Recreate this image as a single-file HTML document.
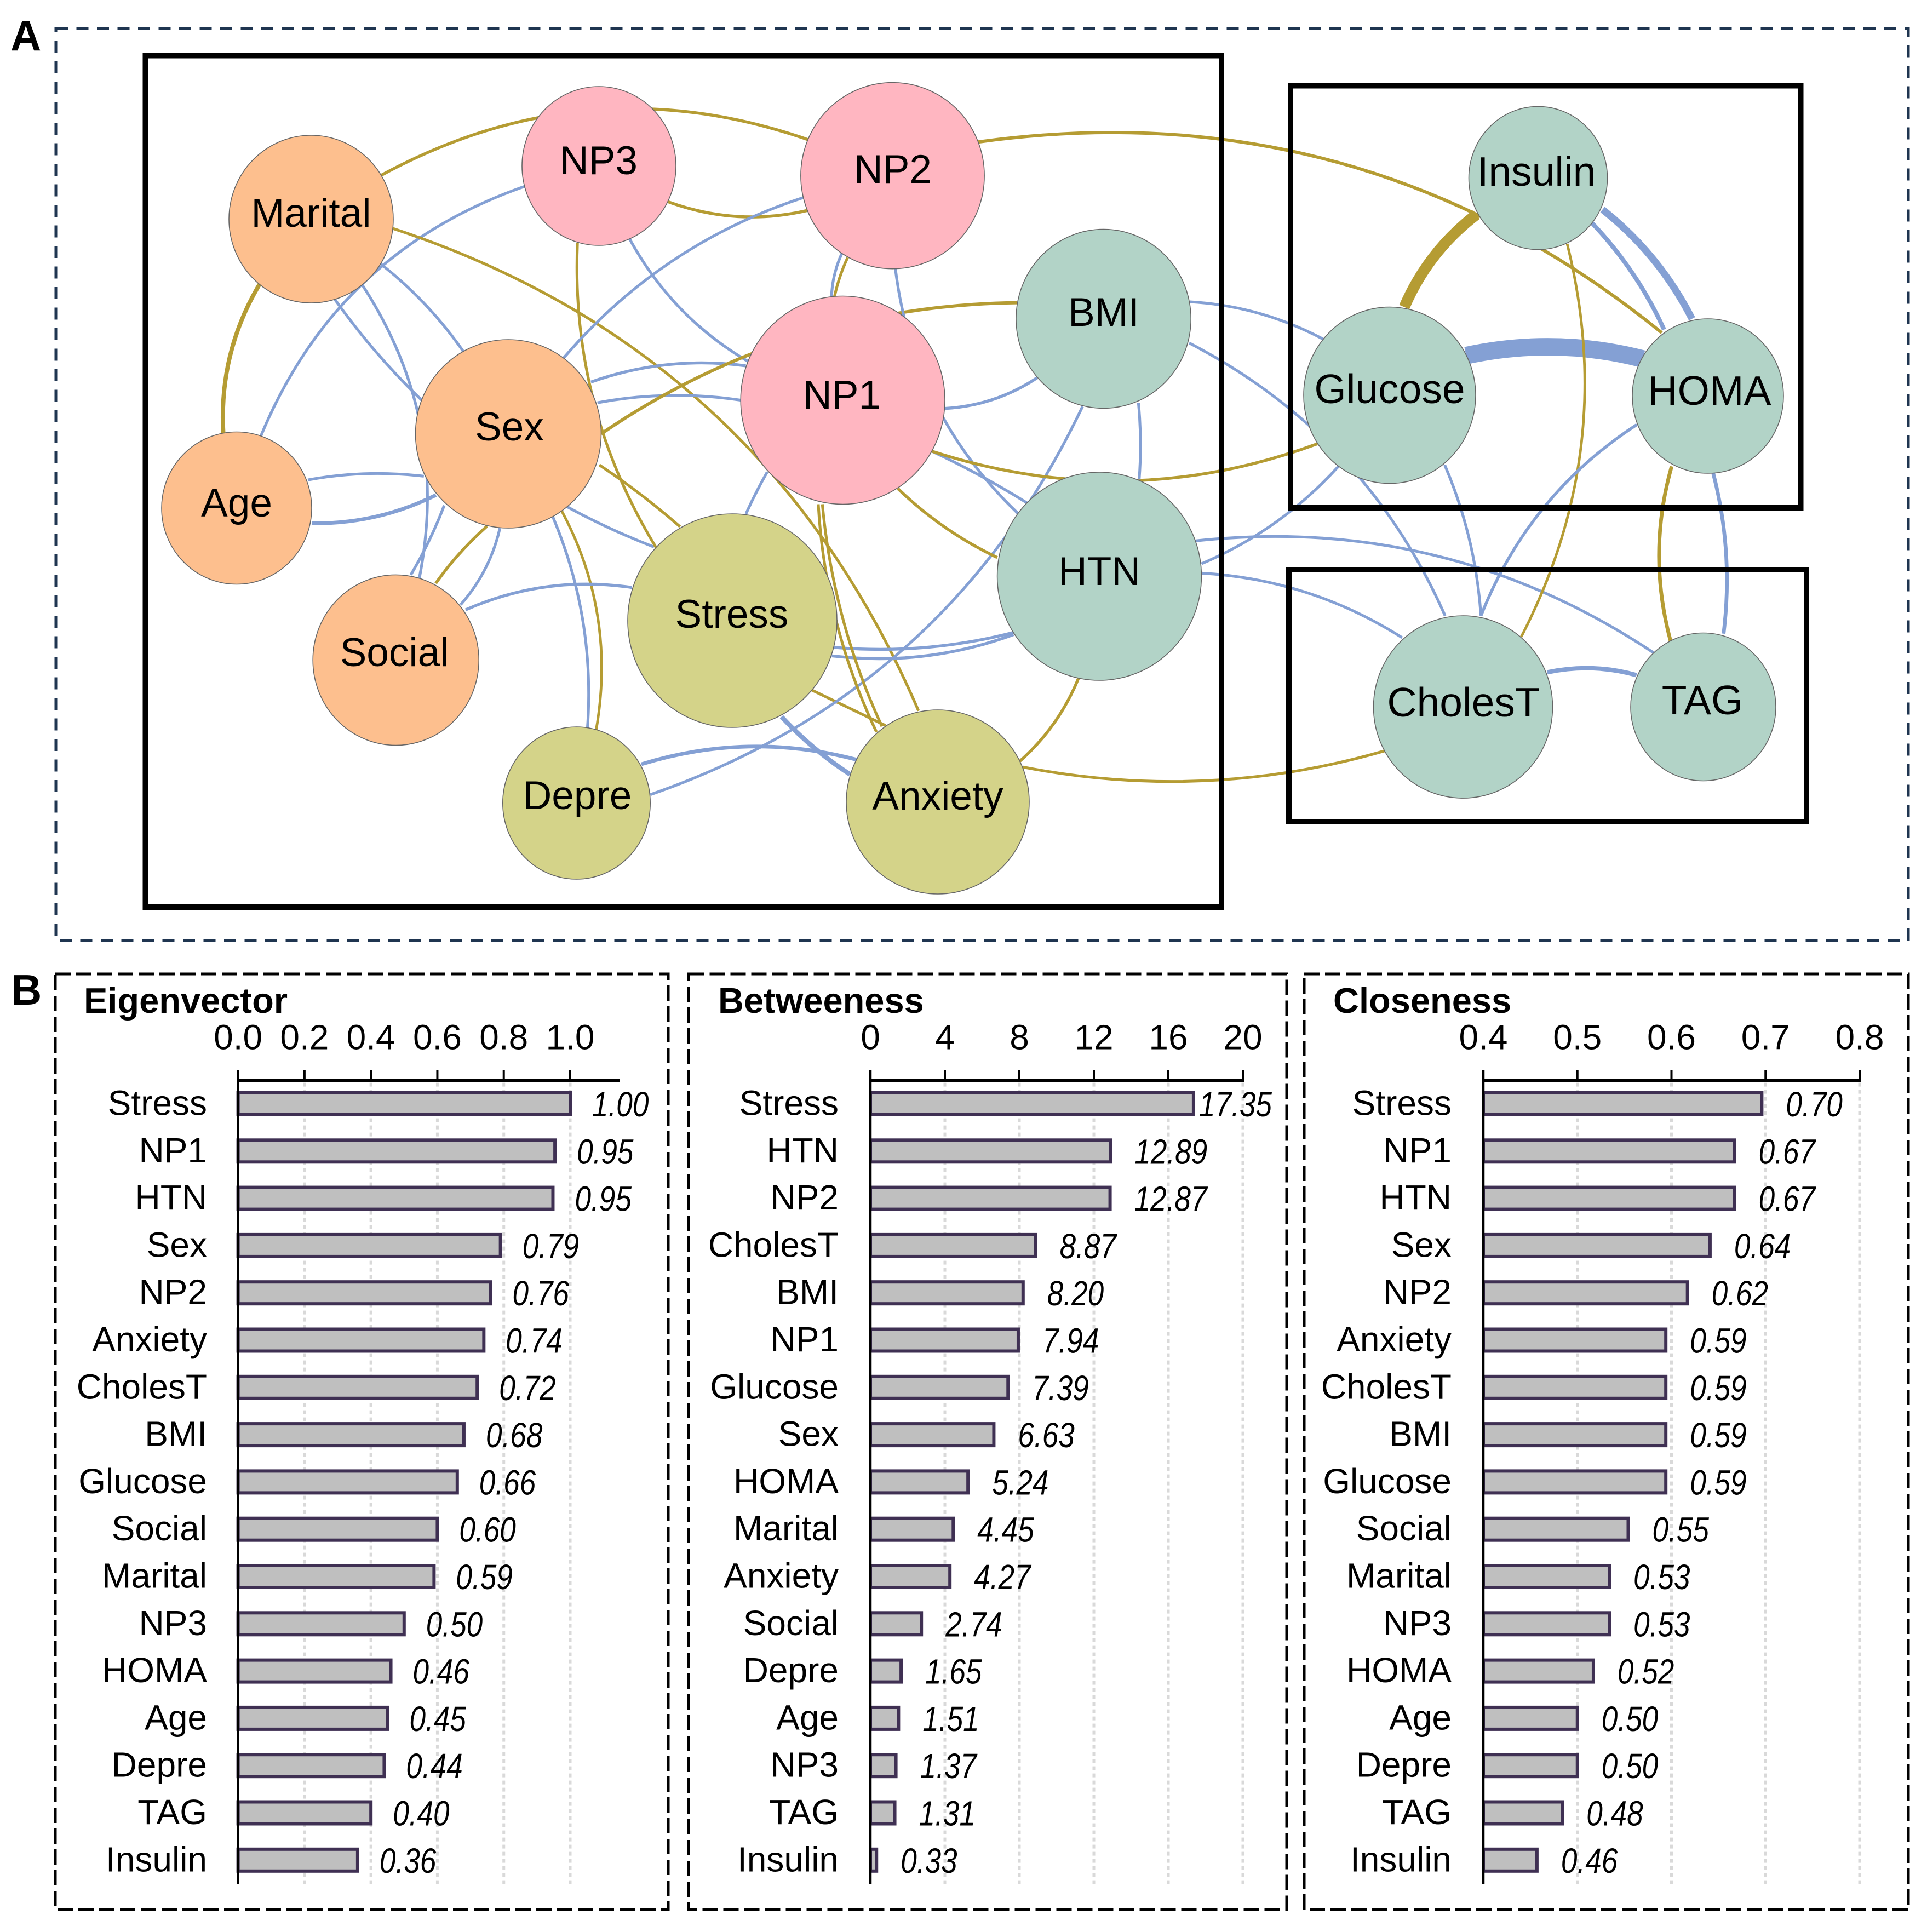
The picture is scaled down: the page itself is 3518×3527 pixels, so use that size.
<!DOCTYPE html>
<html lang="en">
<head>
<meta charset="utf-8">
<title>Network and centrality chart</title>
<style>
html,body{margin:0;padding:0;background:#fff;}
svg{display:block;font-family:"Liberation Sans",Arial,sans-serif;}
</style>
</head>
<body>
<svg id="fig" xmlns="http://www.w3.org/2000/svg" width="3518" height="3527" viewBox="0 0 3518 3527">
  <rect x="0" y="0" width="3518" height="3527" fill="#fff"/>
  <text x="19" y="92" font-size="78" font-weight="700">A</text>
  <text x="20" y="1834" font-size="78" font-weight="700">B</text>
  <rect x="102" y="52" width="3382" height="1665" fill="none" stroke="#1f3550" stroke-width="5" stroke-dasharray="22 15.5"/>
  <g id="edges" fill="none" stroke-linecap="butt"></g>
  <rect x="265.5" y="101.5" width="1964.5" height="1554.5" fill="none" stroke="#000" stroke-width="10"/>
  <rect x="2356" y="156.5" width="931.5" height="770.5" fill="none" stroke="#000" stroke-width="10"/>
  <rect x="2353" y="1040" width="945" height="460" fill="none" stroke="#000" stroke-width="10"/>
  <g id="nodes"></g>
  <g id="panels"></g>
</svg>
<script>
// ---------- network data ----------
const nodeNames  = ['Marital','NP3','NP2','Age','Sex','NP1','BMI','HTN','Stress','Social','Depre','Anxiety','Insulin','Glucose','HOMA','CholesT','TAG'];
const nodeCX     = [568,1093.5,1629.5,432,928,1538.6,2014.6,2007,1337,722.7,1052.5,1712,2808,2537,3118,2671,3109.5];
const nodeCY     = [400,303,320.7,927.5,792,730.5,582,1052,1133,1205,1466,1464,325,721.6,723,1290.6,1290.5];
const nodeRX     = [150,140.5,167.6,137,169.5,186.4,159.6,186.4,191,151.5,134.7,167,126.5,157,138,163.5,132.5];
const nodeRY     = [153,145,170,139,172,190,163.4,190,195,155.6,139,168,130.6,161,141,166.5,135];
const nodeGroup  = ['o','p','p','o','o','p','g','g','y','o','y','y','g','g','g','g','g'];
const nodeLabelX = [568,1093,1630,432,930,1537,2015,2007,1336,720,1054,1712,2805,2537,3121,2672,3108];
const nodeLabelY = [414,318,334,943,804,746,595,1068,1146,1216,1477,1478,339,736,739,1308,1304];
const groupFill  = {o:'#fdbf8e',p:'#ffb6c1',g:'#b2d3c7',y:'#d4d389'};
const edgeColor  = {G:'#b59c33',B:'#84a0d4'};
const WIDTH_SCALE = 1.7;

// from, to, sag (signed bow), weight, sign, optional anchors on each node
const edgeList = [
 ['Age','Marital',81,4.5,'G'],
 ['Marital','NP2',160,3.2,'G'],
 ['NP3','NP2',-84,3.2,'G'],
 ['Age','NP3',140,3,'B'],
 ['Marital','Sex',48,3,'B'],
 ['Marital','Stress',-55,3,'B',[.29,.96],[-.75,-.69]],
 ['Marital','Social',125,3,'B'],
 ['Marital','Anxiety',147,3,'G',[.99,.11],[-.21,-.99]],
 ['NP3','NP1',-85,3,'B'],
 ['NP3','Stress',-44,3,'G',[-.28,.97],[-.72,-.67]],
 ['Sex','NP2',95,3,'B'],
 ['Sex','NP1',17,3.2,'B',[.89,-.55],[-.95,-.33]],
 ['Sex','NP1',11,3,'B',[.96,-.33],[-1,0]],
 ['Sex','BMI',60,3.5,'G',[1,0],[-.99,-.18]],
 ['Sex','Stress',3,3,'G',[.98,.33],[-.5,-.88]],
 ['Stress','Anxiety',0,3,'G',[.76,.65],[-.57,-.83]],
 ['Sex','Depre',72,3,'B'],
 ['Sex','Depre',100,2.8,'G'],
 ['Sex','Social',-4,3.2,'G',[-.23,.98],[.48,-.9]],
 ['Sex','Social',10,3,'B',[-.09,1],[.78,-.65]],
 ['Sex','Social',3,3,'B',[-.69,.76],[.18,-1]],
 ['Age','Sex',8,3,'B',[.95,-.37],[-.91,.45]],
 ['Age','Sex',-14,4,'B',[1,.2],[-.78,.65]],
 ['Social','Stress',22,3.2,'B',[.84,-.59],[-.96,-.31]],
 ['Stress','NP1',1,3,'B',[.13,-1],[-.74,.69]],
 ['Stress','HTN',-14,3.2,'B',[.97,.25],[-.84,.54]],
 ['Stress','HTN',-20,3.2,'B',[.95,.33],[-.84,.56]],
 ['Stress','Anxiety',-5,5,'B',[.47,.9],[-.96,-.3]],
 ['Depre','Anxiety',28,4,'B',[.88,-.51],[-.89,-.46]],
 ['Depre','BMI',-111,3,'B',[1,-.11],[-.24,.98]],
 ['NP2','NP1',-4,3,'B',[-.55,.83],[-.11,-1]],
 ['NP2','NP1',-2,3,'G',[-.49,.88],[-.08,-1]],
 ['NP2','HTN',-121,3,'B'],
 ['NP1','BMI',-12,3.2,'B',[1,.08],[-.76,.66]],
 ['NP1','HTN',3,3,'B',[.87,.49],[-.7,-.7]],
 ['NP1','HTN',-9,3.2,'G',[.54,.85],[-1,-.18]],
 ['NP1','Glucose',-61,3.2,'G',[.87,.49],[-.84,.55]],
 ['NP1','Anxiety',-21,3,'G',[-.24,1],[-.67,-.76]],
 ['NP1','Anxiety',-18,3,'G',[-.2,1],[-.61,-.82]],
 ['BMI','HTN',3,3,'B',[.4,.94],[.39,-.93]],
 ['BMI','Glucose',14,3,'B',[.99,-.19],[-.76,-.63]],
 ['BMI','CholesT',60,3,'B',[.98,.27],[-.2,-1]],
 ['HTN','Glucose',-17,3,'B',[1,-.12],[-.59,.8]],
 ['HTN','TAG',78,3,'B',[.94,-.34],[-.68,-.73]],
 ['HTN','CholesT',25,3,'B',[1,-.03],[-.68,-.76]],
 ['Glucose','Insulin',14,11.8,'G',[.17,-1],[-.89,.51]],
 ['Glucose','HOMA',19,18.8,'B',[.89,-.45],[-.86,-.48]],
 ['Insulin','HOMA',14,7.6,'B',[.93,.44],[-.21,-1]],
 ['Insulin','HOMA',10,4.7,'B',[.77,.62],[-.58,-.86]],
 ['NP2','HOMA',141,3.5,'G',[.92,-.36],[-.61,-.82]],
 ['Insulin','CholesT',68,2.8,'G',[.42,.92],[.65,-.77]],
 ['Glucose','CholesT',12,3,'B',[.64,.79],[.2,-1]],
 ['HOMA','CholesT',-36,3.2,'B',[-.94,.37],[.2,-1]],
 ['HOMA','TAG',-22,4,'G',[-.48,.91],[-.45,-.89]],
 ['HOMA','TAG',14,4,'B',[.07,1],[.28,-.99]],
 ['CholesT','TAG',10,4.7,'B',[.94,-.38],[-.92,-.43]],
 ['Anxiety','CholesT',-40,3,'G',[.93,-.38],[-.87,.48]],
 ['Anxiety','HTN',-12,3.2,'G',[.86,-.41],[-.2,.97]]
];

// ---------- bar chart data ----------
const eigenCategories = ['Stress','NP1','HTN','Sex','NP2','Anxiety','CholesT','BMI','Glucose','Social','Marital','NP3','HOMA','Age','Depre','TAG','Insulin'];
const eigenValues     = [1.00,0.954,0.948,0.79,0.76,0.74,0.72,0.68,0.66,0.60,0.59,0.50,0.46,0.45,0.44,0.40,0.36];
const eigenTicks      = [0,0.2,0.4,0.6,0.8,1.0];
const eigenTickLabels = ['0.0','0.2','0.4','0.6','0.8','1.0'];

const betweenCategories = ['Stress','HTN','NP2','CholesT','BMI','NP1','Glucose','Sex','HOMA','Marital','Anxiety','Social','Depre','Age','NP3','TAG','Insulin'];
const betweenValues     = [17.35,12.89,12.87,8.87,8.20,7.94,7.39,6.63,5.24,4.45,4.27,2.74,1.65,1.51,1.37,1.31,0.33];
const betweenTicks      = [0,4,8,12,16,20];
const betweenTickLabels = ['0','4','8','12','16','20'];

const closeCategories = ['Stress','NP1','HTN','Sex','NP2','Anxiety','CholesT','BMI','Glucose','Social','Marital','NP3','HOMA','Age','Depre','TAG','Insulin'];
const closeValues     = [0.696,0.667,0.667,0.641,0.617,0.594,0.594,0.594,0.594,0.554,0.534,0.534,0.517,0.50,0.50,0.484,0.457];
const closeTicks      = [0.4,0.5,0.6,0.7,0.8];
const closeTickLabels = ['0.4','0.5','0.6','0.7','0.8'];

const NS = 'http://www.w3.org/2000/svg';
function mk(tag, attrs, parent){
  const el = document.createElementNS(NS, tag);
  for (const k in attrs) el.setAttribute(k, attrs[k]);
  parent.appendChild(el);
  return el;
}
function kebab(s){ return s.toLowerCase().replace(/[^a-z0-9]+/g,'-'); }

// ---------- draw network ----------
const edgesG = document.getElementById('edges');
const nodesG = document.getElementById('nodes');
function anchor(i, f){
  if (!f) return [nodeCX[i], nodeCY[i]];
  return [nodeCX[i] + nodeRX[i]*f[0], nodeCY[i] + nodeRY[i]*f[1]];
}
edgeList.forEach(function(e){
  const a = nodeNames.indexOf(e[0]), b = nodeNames.indexOf(e[1]);
  const p = anchor(a, e[5]), q = anchor(b, e[6]);
  const dx = q[0]-p[0], dy = q[1]-p[1], len = Math.hypot(dx,dy);
  const nx = dy/len, ny = -dx/len;
  const cx = (p[0]+q[0])/2 + nx*2*e[2], cy = (p[1]+q[1])/2 + ny*2*e[2];
  const path = mk('path', {
    d:'M'+p[0].toFixed(1)+' '+p[1].toFixed(1)+' Q'+cx.toFixed(1)+' '+cy.toFixed(1)+' '+q[0].toFixed(1)+' '+q[1].toFixed(1),
    stroke:edgeColor[e[4]], 'stroke-width':e[3]*WIDTH_SCALE
  }, edgesG);
  
  
});
nodeNames.forEach(function(name,i){
  const c = mk('ellipse', {cx:nodeCX[i], cy:nodeCY[i], rx:nodeRX[i], ry:nodeRY[i], fill:groupFill[nodeGroup[i]], stroke:'#666', 'stroke-width':1.6}, nodesG);
  
  
  const t = mk('text', {x:nodeLabelX[i], y:nodeLabelY[i], 'text-anchor':'middle', 'font-size': i>=12 ? 75 : 73, fill:'#000'}, nodesG);
  t.textContent = name;
  
  
});

// ---------- draw bar panels ----------
const panelsG = document.getElementById('panels');
const ROW0 = 2015, ROWSTEP = 86.3, AXIS_Y = 1972.6, AXIS_BOTTOM = 3439, TICK_TOP = 1953;

function drawPanel(cfg){
  const g = mk('g', {}, panelsG);
  
  

  const frame = mk('rect', {x:cfg.fx, y:1778, width:cfg.fw, height:1708, fill:'none', stroke:'#000', 'stroke-width':5, 'stroke-dasharray':'28 10'}, g);
  
  

  const title = mk('text', {x:cfg.titleX, y:1849, 'font-size':65, 'font-weight':700}, g);
  title.textContent = cfg.title;
  
  

  const t0 = cfg.ticks[0], t1 = cfg.ticks[cfg.ticks.length-1];
  const xScale = function(v){ return cfg.x0 + (v-t0)/(t1-t0)*(cfg.x1-cfg.x0); };
  const yScale = function(i){ return ROW0 + i*ROWSTEP; };

  cfg.ticks.forEach(function(tv,i){
    const x = xScale(tv);
    if (i>0){
      const grid = mk('line', {x1:x, x2:x, y1:AXIS_Y+4, y2:AXIS_BOTTOM, stroke:'#d9d9d9', 'stroke-width':5, 'stroke-dasharray':'7 6'}, g);
      
      
    }
    const tick = mk('line', {x1:x, x2:x, y1:TICK_TOP, y2:AXIS_Y, stroke:'#000', 'stroke-width':4}, g);
    
    
    const lab = mk('text', {x:x, y:1915.5, 'text-anchor':'middle', 'font-size':64}, g);
    lab.textContent = cfg.tickLabels[i];
    
    
  });

  cfg.values.forEach(function(v,i){
    const y = yScale(i), xe = xScale(v);
    const bar = mk('rect', {x:cfg.x0, y:y-20, width:Math.max(0,xe-cfg.x0), height:40, fill:'#bfbfbf', stroke:'#3f3053', 'stroke-width':6}, g);
    
    

    const cat = mk('text', {x:cfg.labelX, y:y+20.5, 'text-anchor':'end', 'font-size':64}, g);
    cat.textContent = cfg.categories[i];
    
    

    const lx = Math.min(xe + 3 + cfg.gap, cfg.labelMax);
    const val = mk('text', {transform:'translate('+lx.toFixed(1)+' '+(y+23)+') scale(.83 1)', 'font-size':64, 'font-style':'italic'}, g);
    val.textContent = v.toFixed(2);
    
    
  });

  const xAxis = mk('line', {x1:cfg.x0-2, x2:cfg.axisEnd, y1:AXIS_Y, y2:AXIS_Y, stroke:'#000', 'stroke-width':6.5}, g);
  
  
  const yAxis = mk('line', {x1:cfg.x0, x2:cfg.x0, y1:TICK_TOP, y2:AXIS_BOTTOM, stroke:'#000', 'stroke-width':4.5}, g);
  
  
}

drawPanel({title:'Eigenvector', fx:101, fw:1119, titleX:153, x0:434.6, x1:1041, axisEnd:1132, labelX:378, gap:37, labelMax:9999,
  categories:eigenCategories, values:eigenValues, ticks:eigenTicks, tickLabels:eigenTickLabels});
drawPanel({title:'Betweeness', fx:1257.5, fw:1091.5, titleX:1311, x0:1589, x1:2269, axisEnd:2272, labelX:1531, gap:41, labelMax:2189,
  categories:betweenCategories, values:betweenValues, ticks:betweenTicks, tickLabels:betweenTickLabels});
drawPanel({title:'Closeness', fx:2381, fw:1103, titleX:2434, x0:2708, x1:3395, axisEnd:3397, labelX:2650, gap:41, labelMax:9999,
  categories:closeCategories, values:closeValues, ticks:closeTicks, tickLabels:closeTickLabels});
</script>
</body>
</html>
